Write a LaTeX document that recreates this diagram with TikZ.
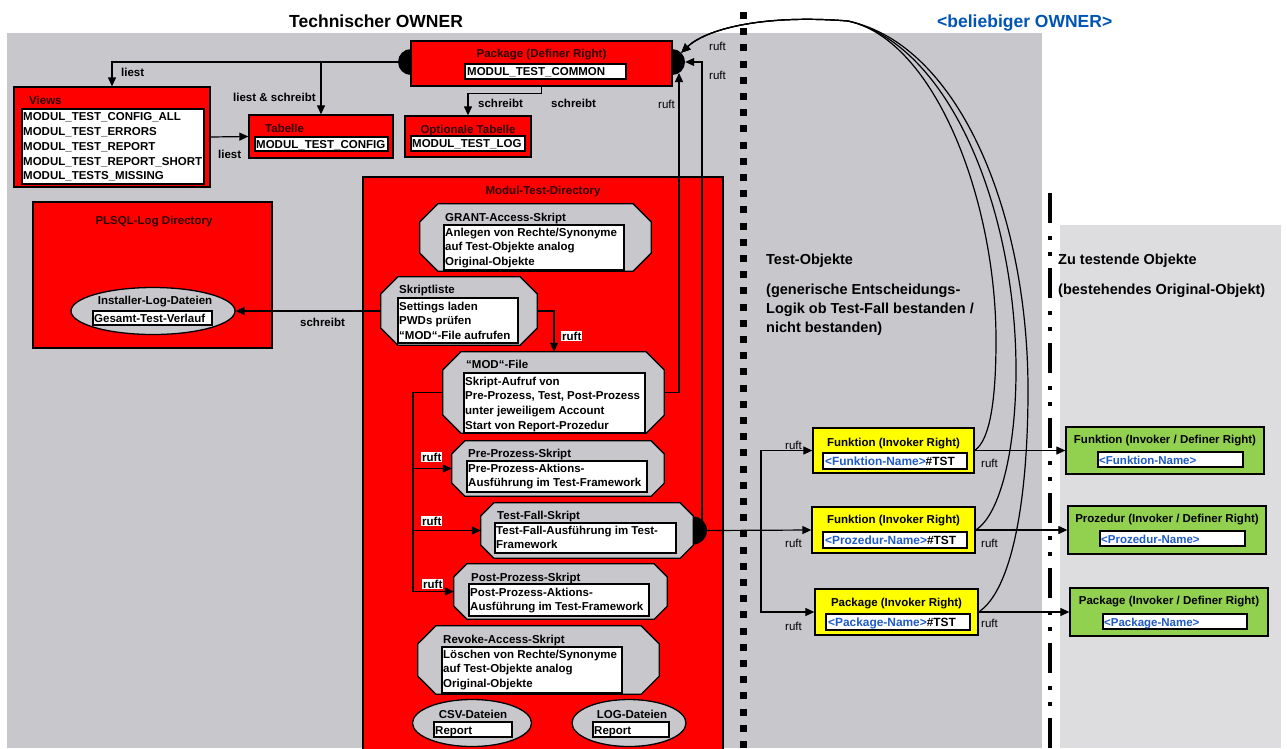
\documentclass[tikz,border=0pt]{standalone}
\usepackage{fontspec}
\setmainfont{Liberation Sans}
\usetikzlibrary{arrows.meta,shapes.geometric,fit,calc}
\definecolor{bggray}{RGB}{200,199,204}
\definecolor{bglight}{RGB}{221,221,224}
\definecolor{titlered}{RGB}{45,0,0}
\definecolor{myyellow}{RGB}{255,255,0}
\definecolor{mygreen}{RGB}{146,208,80}
\definecolor{myblue}{RGB}{0,84,180}
\definecolor{namblue}{RGB}{30,90,200}
\newcommand{\octashape}[2]{%
  \filldraw[fill=bggray, draw=black, line width=1.3pt]
  ($(#1.north west)+(#2,0)$) -- ($(#1.north east)+(-#2,0)$) -- ($(#1.north east)+(0,#2)$) -- ($(#1.south east)+(0,-#2)$) -- ($(#1.south east)+(-#2,0)$) -- ($(#1.south west)+(#2,0)$) -- ($(#1.south west)+(0,-#2)$) -- ($(#1.north west)+(0,#2)$) -- cycle;}
\begin{document}
\begin{tikzpicture}[x=1pt,y=-1pt,
  lbl/.style={font=\fontsize{11.5}{14.7}\selectfont\bfseries, inner sep=0pt, anchor=base west},
  lblr/.style={font=\fontsize{11.5}{14.7}\selectfont, inner sep=0pt, anchor=base west},
  nametxt/.style={font=\fontsize{11.9}{14.7}\selectfont\bfseries, inner sep=0pt, anchor=base west},
  ttl/.style={lbl, text=titlered},
  multi/.style={lbl, anchor=north west, align=left},
  bigtxt/.style={font=\fontsize{14.5}{19}\selectfont\bfseries, inner sep=0pt, anchor=base west},
  headtxt/.style={font=\fontsize{17.5}{20}\selectfont\bfseries, inner sep=0pt, anchor=base west},
  redbox/.style={draw=black, line width=1.3pt, fill=red, inner sep=0pt},
  ybox/.style={draw=black, line width=1.3pt, fill=myyellow, inner sep=0pt},
  gbox/.style={draw=black, line width=1.3pt, fill=mygreen, inner sep=0pt},
  wbox/.style={draw=black, line width=1.2pt, fill=white, inner sep=0pt},
  octframe/.style={inner sep=0pt},
  ell/.style={ellipse, draw=black, line width=1.3pt, fill=bggray, inner sep=0pt},
  halfdot/.style={circle, fill=black, minimum size=26pt, inner sep=0pt},
  arr/.style={line width=1.2pt, -{Triangle[length=9pt,width=8pt]}},
  wire/.style={line width=1.2pt},
  rw/.style={lbl, fill=white, inner sep=1pt},
]
\useasboundingbox (0,0) rectangle (1287,748);
\fill[white] (0,0) rectangle (1287,748);
\fill[bggray] (7,33) rectangle (1042,748);
\fill[bglight] (1060,225) rectangle (1281,748);

% separators
\draw[line width=7pt, dash pattern=on 7pt off 9.2pt] (743,12) -- (743,748);
\draw[line width=3.5pt, dash pattern=on 30pt off 13pt on 3.5pt off 12.5pt on 3.5pt off 12.5pt] (1050,193) -- (1050,748);

% headings
\node[headtxt] (h1) at (289,27) {Technischer OWNER};
\node[headtxt, text=myblue] (h2) at (937,27) {<beliebiger OWNER>};

% Package (Definer Right)
\node[halfdot] (pkL) at (411,62) {};
\node[halfdot] (pkR) at (672,62) {};
\node[redbox, fit={(411,41) (672,86)}] (pk) {};
\node[ttl, anchor=base] (pkT) at (541.5,57) {Package (Definer Right)};
\node[wbox, fit={(465,64) (626,79)}] (pkW) {};
\node[lbl] (pkX) at (467,75.5) {MODUL\_TEST\_COMMON};

% Views
\node[redbox, fit={(14,87) (210,187)}] (views) {};
\node[ttl] (viewsT) at (29,104) {Views};
\node[wbox, fit={(22,109) (204,184)}] (viewsW) {};
\node[multi] (viewsX) at (23,112.7) {MODUL\_TEST\_CONFIG\_ALL\\MODUL\_TEST\_ERRORS\\MODUL\_TEST\_REPORT\\MODUL\_TEST\_REPORT\_SHORT\\MODUL\_TESTS\_MISSING};

% Tabelle
\node[redbox, fit={(249,115) (393,158)}] (tab) {};
\node[ttl] (tabT) at (265,132) {Tabelle};
\node[wbox, fit={(255,137) (388,151)}] (tabW) {};
\node[lbl] (tabX) at (256,148) {MODUL\_TEST\_CONFIG};

% Optionale Tabelle
\node[redbox, fit={(405,116) (531,157)}] (opt) {};
\node[ttl, anchor=base] (optT) at (468,133) {Optionale Tabelle};
\node[wbox, fit={(411,136) (525,151)}] (optW) {};
\node[lbl] (optX) at (412,147.5) {MODUL\_TEST\_LOG};

% labels top left
\node[lbl] (l1) at (121,76) {liest};
\node[lbl] (l2) at (233,101) {liest \& schreibt};
\node[lbl] (l3) at (218,158) {liest};
\node[lbl] (l4) at (478,107) {schreibt};
\node[lbl] (l5) at (551,107) {schreibt};
\node[lblr] (l6) at (658,108) {ruft};
\node[lblr] (l7) at (709,50) {ruft};
\node[lblr] (l8) at (709,79) {ruft};

% PLSQL-Log Directory
\node[redbox, fit={(33,202) (272,348)}] (plsql) {};
\node[ttl, anchor=base] (plsqlT) at (154,224) {PLSQL-Log Directory};
\node[ell, minimum width=164pt, minimum height=47pt] (inst) at (153,311) {};
\node[lbl, anchor=base] (instT) at (155,304) {Installer-Log-Dateien};
\node[wbox, fit={(93,311) (212,325)}] (instW) {};
\node[lbl] (instX) at (94,322) {Gesamt-Test-Verlauf};
\node[lbl] (l9) at (300,326) {schreibt};

% Modul-Test-Directory
\node[redbox, fit={(363,177) (723,760)}] (mtd) {};
\node[ttl, anchor=base] (mtdT) at (543,194) {Modul-Test-Directory};

% GRANT
\node[octframe, fit={(420,204) (651,271)}] (grant) {};
\octashape{grant}{18}
\node[lbl] (grantT) at (445,221) {GRANT-Access-Skript};
\node[wbox, fit={(444,225) (624,270)}] (grantW) {};
\node[multi] (grantX) at (445,227.7) {Anlegen von Rechte/Synonyme\\auf Test-Objekte analog\\Original-Objekte};

% Skriptliste
\node[octframe, fit={(381,277) (537,345)}] (skr) {};
\octashape{skr}{17}
\node[lbl] (skrT) at (399,293) {Skriptliste};
\node[wbox, fit={(398,298) (518,343)}] (skrW) {};
\node[multi] (skrX) at (399,301.7) {Settings laden\\PWDs prüfen\\“MOD“-File aufrufen};

% MOD-File
\node[octframe, fit={(443,352) (664,433)}] (mod) {};
\octashape{mod}{18}
\node[lbl] (modT) at (466,368) {“MOD“-File};
\node[wbox, fit={(464,373) (645,433)}] (modW) {};
\node[multi] (modX) at (465,376.7) {Skript-Aufruf von\\Pre-Prozess, Test, Post-Prozess\\unter jeweiligem Account\\Start von Report-Prozedur};

% Pre-Prozess
\node[octframe, fit={(452,441) (664,496)}] (pre) {};
\octashape{pre}{13}
\node[lbl] (preT) at (468,457) {Pre-Prozess-Skript};
\node[wbox, fit={(467,461) (647,492)}] (preW) {};
\node[multi] (preX) at (468,463.7) {Pre-Prozess-Aktions-\\Ausführung im Test-Framework};

% Test-Fall
\node[halfdot, minimum size=28pt] (tfR) at (693,530.5) {};
\node[octframe, fit={(481,503) (693,558)}] (tf) {};
\octashape{tf}{13}
\node[lbl] (tfT) at (497,519) {Test-Fall-Skript};
\node[wbox, fit={(495,523) (676,553)}] (tfW) {};
\node[multi] (tfX) at (496,525.7) {Test-Fall-Ausführung im Test-\\Framework};

% Post-Prozess
\node[octframe, fit={(454,564) (667,619)}] (post) {};
\octashape{post}{13}
\node[lbl] (postT) at (471,581) {Post-Prozess-Skript};
\node[wbox, fit={(469,584) (649,616)}] (postW) {};
\node[multi] (postX) at (470,587.7) {Post-Prozess-Aktions-\\Ausführung im Test-Framework};

% Revoke
\node[octframe, fit={(418,626) (659,694)}] (rev) {};
\octashape{rev}{18}
\node[lbl] (revT) at (443,643) {Revoke-Access-Skript};
\node[wbox, fit={(442,647) (622,693)}] (revW) {};
\node[multi] (revX) at (443,649.7) {Löschen von Rechte/Synonyme\\auf Test-Objekte analog\\Original-Objekte};

% CSV / LOG
\node[ell, minimum width=119pt, minimum height=47pt] (csv) at (472,723) {};
\node[lbl, anchor=base] (csvT) at (473,718) {CSV-Dateien};
\node[wbox, fit={(434,722) (512,737)}] (csvW) {};
\node[lbl] (csvX) at (435,734) {Report};
\node[ell, minimum width=114pt, minimum height=47pt] (logd) at (629,723) {};
\node[lbl, anchor=base] (logT) at (632,718) {LOG-Dateien};
\node[wbox, fit={(593,722) (669,737)}] (logW) {};
\node[lbl] (logX) at (594,734) {Report};

% right side texts
\node[bigtxt] (to1) at (766,264) {Test-Objekte};
\node[bigtxt] (to2) at (766,294) {(generische Entscheidungs-};
\node[bigtxt] (to3) at (766,313) {Logik ob Test-Fall bestanden /};
\node[bigtxt] (to4) at (766,332) {nicht bestanden)};
\node[bigtxt] (zt1) at (1058,264) {Zu testende Objekte};
\node[bigtxt] (zt2) at (1058,294) {(bestehendes Original-Objekt)};

% yellow boxes
\node[ybox, fit={(813,428) (974,473)}] (y1) {};
\node[lbl, anchor=base] (y1T) at (893.5,446) {Funktion (Invoker Right)};
\node[wbox, fit={(823,453) (967,469)}] (y1W) {};
\node[nametxt] (y1X) at (825,465.5) {\textcolor{namblue}{<Funktion-Name>}\#TST};
\node[ybox, fit={(812,507) (975,553)}] (y2) {};
\node[lbl, anchor=base] (y2T) at (893.5,523.5) {Funktion (Invoker Right)};
\node[wbox, fit={(823,532) (967,548)}] (y2W) {};
\node[nametxt] (y2X) at (825,544.5) {\textcolor{namblue}{<Prozedur-Name>}\#TST};
\node[ybox, fit={(815,589) (978,635)}] (y3) {};
\node[lbl, anchor=base] (y3T) at (896.5,606) {Package (Invoker Right)};
\node[wbox, fit={(826,614) (970,630)}] (y3W) {};
\node[nametxt] (y3X) at (828,626.5) {\textcolor{namblue}{<Package-Name>}\#TST};

% green boxes
\node[gbox, fit={(1066,427) (1264,474)}] (g1) {};
\node[lbl, anchor=base] (g1T) at (1165,443.5) {Funktion (Invoker / Definer Right)};
\node[wbox, fit={(1098,452) (1243,467)}] (g1W) {};
\node[lbl, text=namblue] (g1X) at (1099,464) {<Funktion-Name>};
\node[gbox, fit={(1068,506) (1266,554)}] (g2) {};
\node[lbl, anchor=base] (g2T) at (1167,522.5) {Prozedur (Invoker / Definer Right)};
\node[wbox, fit={(1100,531) (1245,546)}] (g2W) {};
\node[lbl, text=namblue] (g2X) at (1101,543) {<Prozedur-Name>};
\node[gbox, fit={(1070,588) (1268,636)}] (g3) {};
\node[lbl, anchor=base] (g3T) at (1169,604.5) {Package (Invoker / Definer Right)};
\node[wbox, fit={(1103,614) (1247,629)}] (g3W) {};
\node[lbl, text=namblue] (g3X) at (1104,626) {<Package-Name>};

% ruft labels near yellow boxes
\node[lblr] (r1) at (785,449) {ruft};
\node[lblr] (r2) at (785,547) {ruft};
\node[lblr] (r3) at (785,630) {ruft};
\node[lblr] (r4) at (981,467) {ruft};
\node[lblr] (r5) at (981,547) {ruft};
\node[lblr] (r6) at (981,627) {ruft};

% connectors top
\draw[arr] (pkL.west) -| (views.north);
\draw[arr] (tab.north |- pkL.west) -- (tab.north);
\draw[arr] (views.east) -- (tab.west);
\draw[arr] (pk.south) -- ++(0,7) -| (opt.north);

% connectors in directory
\coordinate (sk1) at (554,311);
\draw[arr] (skr.west) -- (skr.west -| inst.east);
\draw[arr] (skr.east) -- (sk1) -- (sk1 |- mod.north);
\coordinate (bus) at (413,392.5);
\draw[wire] (mod.west) -- (bus) -- (post.west -| bus);
\draw[arr] (pre.west -| bus) -- (pre.west);
\draw[arr] (tf.west -| bus) -- (tf.west);
\draw[arr] (post.west -| bus) -- (post.west);
\coordinate (up1) at (679,73);
\draw[arr] (mod.east) -| (up1);
\coordinate (j1) at (702,530.5);
\draw[arr] (j1) |- (pkR.east);
\draw[arr] (tfR.east) -- (y2.west);
\coordinate (j2) at (761,530.5);
\draw[arr] (j2) |- (y1.west);
\draw[arr] (j2) |- (y3.west);
\draw[arr] (y1.east) -- (g1.west);
\draw[arr] (y2.east) -- (g2.west);
\draw[arr] (y3.east) -- (g3.west);

% ruft labels with white background
\node[rw] (rw1) at (561,340) {ruft};
\node[rw] (rw2) at (421,461) {ruft};
\node[rw] (rw3) at (421,525) {ruft};
\node[rw] (rw4) at (422,588) {ruft};

% curves back to the package
\draw[arr] (y1.east) .. controls (990,440) and (996,400) .. (996,340) .. controls (996,200) and (935,40) .. (848,21) .. controls (760,14) and (705,30) .. (pkR.north east);
\draw[arr] (y2.east) .. controls (1000,515) and (1016,450) .. (1016,370) .. controls (1016,210) and (950,45) .. (848,21) .. controls (760,14) and (705,30) .. (pkR.north east);
\draw[arr] (y3.east) .. controls (1012,590) and (1028,500) .. (1028,390) .. controls (1028,215) and (960,45) .. (848,21) .. controls (760,14) and (705,30) .. (pkR.north east);
\end{tikzpicture}
\end{document}
